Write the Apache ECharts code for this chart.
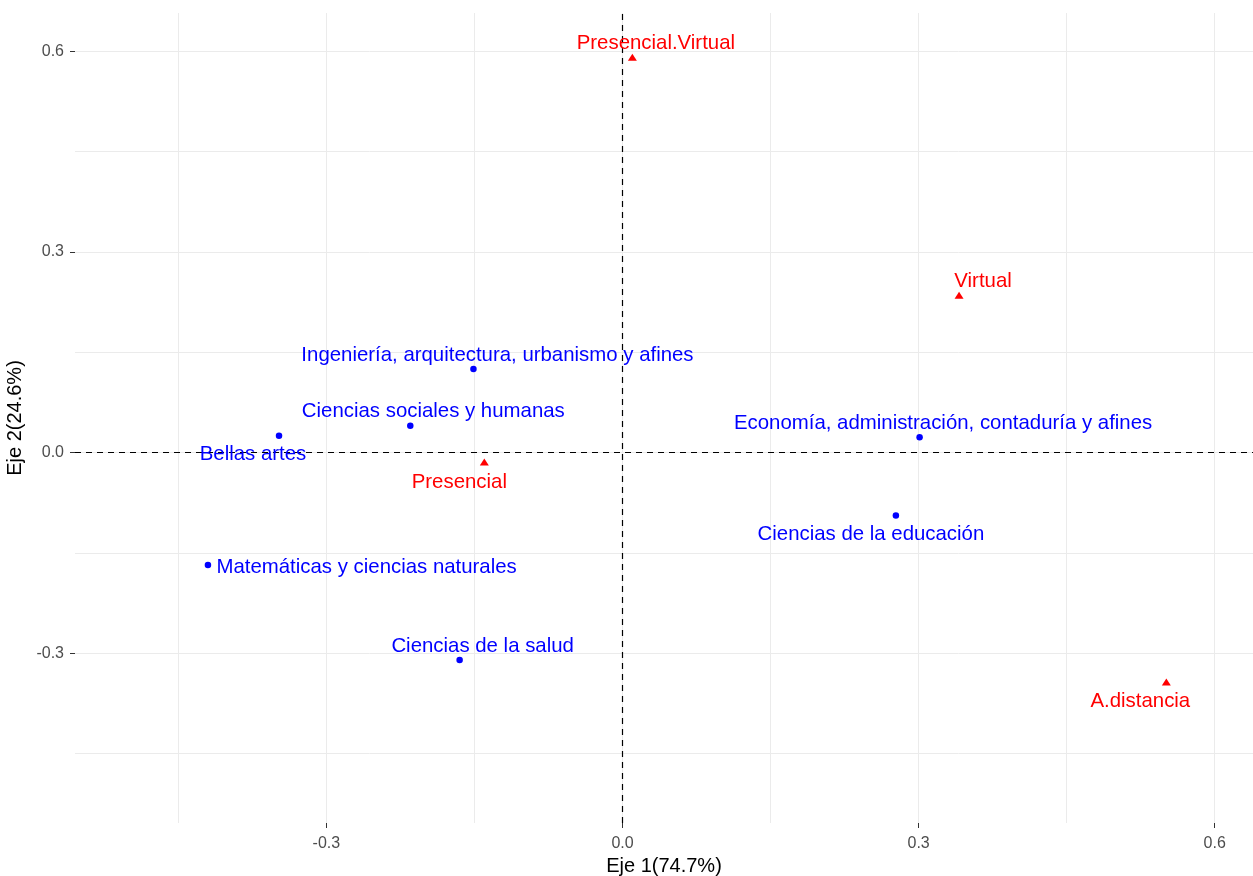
<!DOCTYPE html>
<html>
<head>
<meta charset="utf-8">
<title>Eje 1 vs Eje 2</title>
<script src="https://cdn.jsdelivr.net/npm/echarts@6/dist/echarts.min.js"></script>
<style>
  html, body { margin: 0; padding: 0; background: #fff; }
  #main { width: 1253px; height: 876px; }
</style>
</head>
<body>
<div id="main"></div>
<script>
// areas (blue points)
var areaNames = [
  'Ingeniería, arquitectura, urbanismo y afines',
  'Ciencias sociales y humanas',
  'Bellas artes',
  'Economía, administración, contaduría y afines',
  'Ciencias de la educación',
  'Matemáticas y ciencias naturales',
  'Ciencias de la salud'
];
var areaX = [-0.151, -0.215, -0.348, 0.301, 0.277, -0.420, -0.165];
var areaY = [0.125, 0.040, 0.025, 0.023, -0.094, -0.168, -0.310];

// modalities (red triangles)
var modeNames = ['Presencial.Virtual', 'Virtual', 'Presencial', 'A.distancia'];
var modeX = [0.010, 0.341, -0.140, 0.551];
var modeY = [0.591, 0.235, -0.014, -0.343];

// axes
var tickValues = [-0.3, 0, 0.3, 0.6];
var gridBreaks = [-0.45, -0.3, -0.15, 0, 0.15, 0.3, 0.45, 0.6];
var xRange = [-0.5547, 0.6388];
var yRange = [-0.5538, 0.657];

// where each text sits relative to its point (px)
var labelOffsets = {
  'Ingeniería, arquitectura, urbanismo y afines': [24, -14],
  'Ciencias sociales y humanas': [23, -14],
  'Bellas artes': [-26, 19],
  'Economía, administración, contaduría y afines': [23.5, -14],
  'Ciencias de la educación': [-25, 19],
  'Matemáticas y ciencias naturales': [8.5, 2.5],
  'Ciencias de la salud': [23, -14],
  'Presencial.Virtual': [23.5, -14],
  'Virtual': [24, -14],
  'Presencial': [-25, 20],
  'A.distancia': [-26, 19]
};

var FONT = "'Liberation Sans', Arial, sans-serif";

function pointData(names, xs, ys) {
  return names.map(function (n, i) {
    var lab = { offset: labelOffsets[n] };
    if (n === 'Matemáticas y ciencias naturales') lab.align = 'left';
    return { name: n, value: [xs[i], ys[i]], label: lab };
  });
}

var gridLines = [];
gridBreaks.forEach(function (v) {
  gridLines.push({ xAxis: v });
  gridLines.push({ yAxis: v });
});

function axisCommon(name, gap, labelMargin) {
  return {
    type: 'value',
    name: name,
    nameLocation: 'middle',
    nameGap: gap,
    nameTextStyle: { fontSize: 20, color: '#000', fontFamily: FONT },
    axisLine: { show: true, onZero: false, lineStyle: { color: 'rgba(0,0,0,0)' } },
    splitLine: { show: false },
    axisTick: { show: true, customValues: tickValues, length: 5, lineStyle: { color: '#333', width: 1 } },
    axisLabel: {
      customValues: tickValues, margin: labelMargin, fontSize: 16, color: '#4d4d4d', fontFamily: FONT,
      formatter: function (v) { return v.toFixed(1); }
    }
  };
}

var xAxis = axisCommon('Eje 1(74.7%)', 27, 13);
xAxis.min = xRange[0];
xAxis.max = xRange[1];
var yAxis = axisCommon('Eje 2(24.6%)', 36, 11);
yAxis.min = yRange[0];
yAxis.max = yRange[1];

var chart = echarts.init(document.getElementById('main'));
var option = {
  backgroundColor: '#ffffff',
  animation: false,
  textStyle: { fontFamily: FONT },
  grid: { left: 75, right: 0, top: 13, bottom: 53, containLabel: false, outerBoundsMode: 'none' },
  xAxis: xAxis,
  yAxis: yAxis,
  series: [
    {
      name: 'grid',
      type: 'scatter',
      data: [],
      silent: true,
      markLine: {
        silent: true,
        z: 1,
        symbol: ['none', 'none'],
        label: { show: false },
        lineStyle: { color: '#ebebeb', width: 1, type: 'solid' },
        emphasis: { disabled: true },
        data: gridLines
      }
    },
    {
      name: 'zero',
      type: 'scatter',
      data: [],
      silent: true,
      markLine: {
        silent: true,
        z: 2,
        symbol: ['none', 'none'],
        label: { show: false },
        lineStyle: { color: '#000', width: 1.2, type: [6, 5] },
        emphasis: { disabled: true },
        data: [{ xAxis: 0 }, { yAxis: 0 }]
      }
    },
    {
      name: 'areas',
      type: 'scatter',
      z: 3,
      symbol: 'circle',
      symbolSize: 6.5,
      itemStyle: { color: '#0000ff', opacity: 1 },
      label: {
        show: true, position: 'inside', formatter: '{b}',
        color: '#0000ff', fontSize: 20.4, fontFamily: FONT
      },
      data: pointData(areaNames, areaX, areaY)
    },
    {
      name: 'modes',
      type: 'scatter',
      z: 3,
      symbol: 'triangle',
      symbolSize: [9, 7],
      itemStyle: { color: '#ff0000', opacity: 1 },
      label: {
        show: true, position: 'inside', formatter: '{b}',
        color: '#ff0000', fontSize: 20.4, fontFamily: FONT
      },
      data: pointData(modeNames, modeX, modeY)
    }
  ]
};
chart.setOption(option);
</script>
</body>
</html>
